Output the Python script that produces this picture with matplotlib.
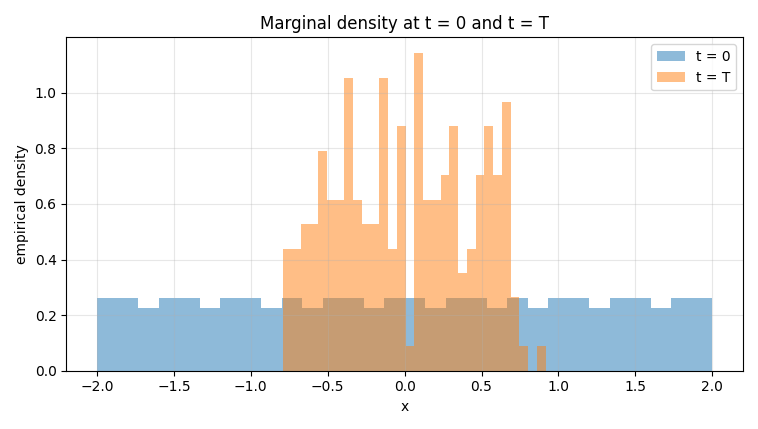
import numpy as np
import matplotlib.pyplot as plt

# histogram counts (200 samples each, 30 bins)
counts_t0 = [7, 7, 6, 7, 7, 6, 7, 7, 6, 7, 6, 7, 7, 6, 7, 7, 6, 7, 7, 6,
             7, 6, 7, 7, 6, 7, 7, 6, 7, 7]
counts_tT = [5, 5, 6, 6, 9, 7, 7, 12, 7, 6, 6, 12, 5, 10, 1, 13, 7, 7, 8, 10,
             4, 5, 8, 10, 8, 11, 3, 1, 0, 1]
range_t0 = (-2.0, 2.0)
range_tT = (-0.79, 0.917)

edges0 = np.linspace(*range_t0, len(counts_t0) + 1)
edgesT = np.linspace(*range_tT, len(counts_tT) + 1)

fig, ax = plt.subplots(figsize=(7.58, 4.29), dpi=100)
ax.hist((edges0[:-1] + edges0[1:]) / 2, bins=edges0, weights=counts_t0,
        density=True, alpha=0.5, label="t = 0")
ax.hist((edgesT[:-1] + edgesT[1:]) / 2, bins=edgesT, weights=counts_tT,
        density=True, alpha=0.5, label="t = T")
ax.set_title("Marginal density at t = 0 and t = T")
ax.set_xlabel("x")
ax.set_ylabel("empirical density")
ax.grid(alpha=0.3)
ax.legend()
fig.tight_layout()
fig.savefig("out.png")
